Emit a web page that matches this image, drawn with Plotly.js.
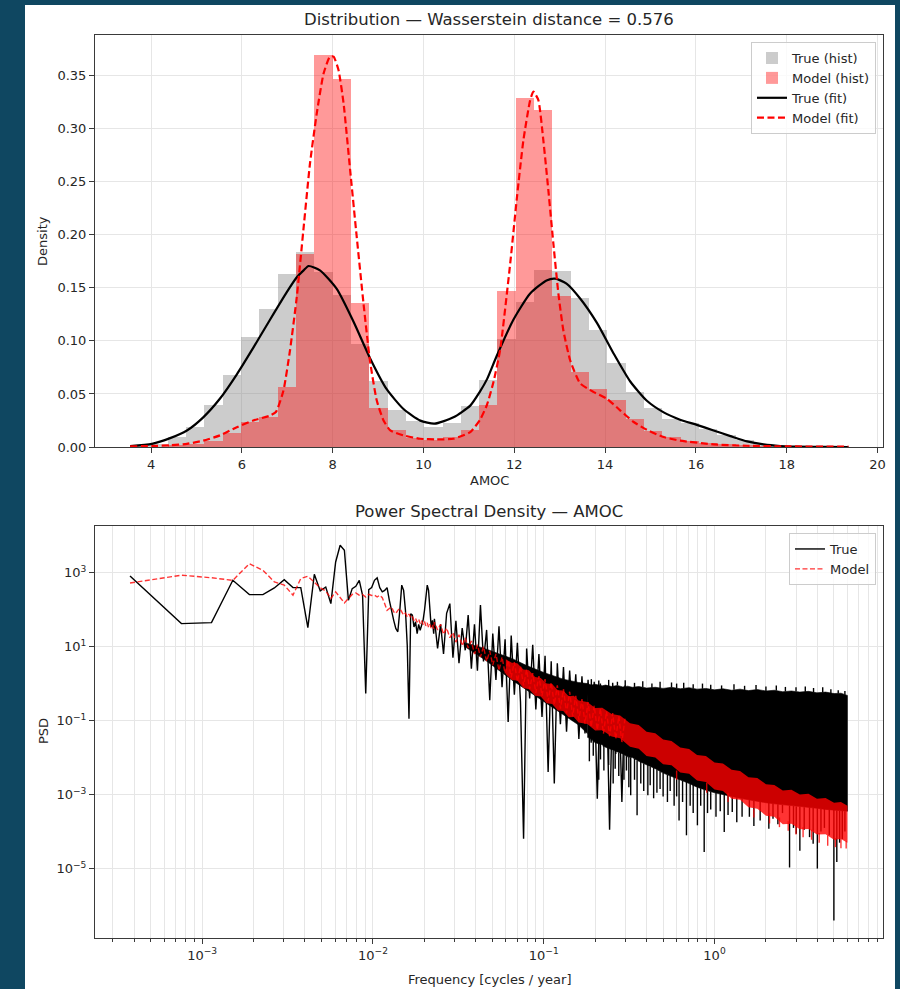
<!DOCTYPE html>
<html>
<head>
<meta charset="utf-8">
<script src="https://cdn.plot.ly/plotly-3.0.1.min.js"></script>
<style>
  html, body { margin: 0; padding: 0; background: #0f4761; }
  #fig { position: absolute; left: 25px; top: 5px; width: 870px; height: 984px; background: #ffffff; }
</style>
</head>
<body>
<div id="fig"></div>
<script>
// ---------------- Distribution of AMOC ----------------
const binStart = 3.56;      // left edge of first bin
const binWidth = 0.4035;    // shared bin width
const trueHist = [
  0.0015, 0.003, 0.009, 0.019, 0.0393, 0.0676, 0.1038, 0.1305, 0.1635, 0.184,
  0.1645, 0.143, 0.0975, 0.062, 0.035, 0.0243, 0.019, 0.0227, 0.039, 0.063,
  0.102, 0.137, 0.167, 0.166, 0.140, 0.110, 0.0795, 0.052, 0.0364, 0.0265,
  0.023, 0.017, 0.011, 0.0066, 0.003, 0.0015, 0.0008, 0.0003, 0.0, 0.0
];
const modelHist = [
  0.0002, 0.0005, 0.0015, 0.003, 0.006, 0.013, 0.024, 0.028, 0.057, 0.182,
  0.3695, 0.347, 0.136, 0.037, 0.0156, 0.0087, 0.0068, 0.0093, 0.0156, 0.040,
  0.147, 0.329, 0.318, 0.1425, 0.0707, 0.055, 0.044, 0.026, 0.0155, 0.0095,
  0.006, 0.004, 0.0025, 0.0015, 0.001, 0.0005, 0.0003, 0.0002, 0.0001, 0.0001
];
const trueFitX = [
  3.54, 4.02, 4.42, 4.79, 5.15, 5.52, 5.89, 6.25, 6.62, 6.99, 7.21, 7.36, 7.47,
  7.72, 8.09, 8.46, 8.82, 9.19, 9.56, 9.93, 10.24, 10.66, 11.03, 11.24, 11.4,
  11.61, 11.98, 12.35, 12.71, 12.9, 13.15, 13.45, 13.82, 14.18, 14.55, 14.92,
  15.29, 15.65, 16.02, 16.39, 16.76, 17.13, 17.49, 17.86, 18.23, 18.8, 19.36
];
const trueFitY = [
  0.0008, 0.003, 0.0084, 0.0156, 0.028, 0.0457, 0.0685, 0.0934, 0.12, 0.146, 0.160, 0.1665, 0.1706,
  0.1665, 0.149, 0.118, 0.084, 0.0545, 0.0358, 0.0249, 0.022, 0.028, 0.039, 0.052, 0.064,
  0.0856, 0.12, 0.1447, 0.157, 0.1587, 0.154, 0.140, 0.117, 0.0887, 0.062, 0.0436,
  0.0327, 0.0258, 0.0209, 0.0156, 0.0103, 0.0053, 0.0025, 0.001, 0.0003, 0.0001, 0.0
];
const modelFitX = [
  3.54, 4.02, 4.42, 4.79, 5.15, 5.52, 5.89, 6.25, 6.62, 6.75, 6.915, 7.06, 7.21,
  7.355, 7.5, 7.65, 7.8, 7.94, 8.02, 8.13, 8.24, 8.385, 8.53, 8.68, 8.82, 8.97,
  9.12, 9.27, 9.56, 9.93, 10.29, 10.66, 11.03, 11.25, 11.4, 11.54, 11.69, 11.91,
  12.06, 12.2, 12.35, 12.42, 12.53, 12.64, 12.75, 12.86, 12.97, 13.08, 13.23,
  13.45, 13.74, 14.04, 14.33, 14.63, 14.92, 15.29, 15.65, 16.39, 17.13, 18.0, 19.36
];
const modelFitY = [
  0.0006, 0.001, 0.0016, 0.003, 0.006, 0.011, 0.0187, 0.025, 0.0296, 0.033, 0.053, 0.091, 0.1415,
  0.2044, 0.267, 0.3145, 0.352, 0.368, 0.368, 0.355, 0.324, 0.261, 0.198, 0.135, 0.0818, 0.044,
  0.025, 0.0157, 0.011, 0.0078, 0.0072, 0.0078, 0.014, 0.026, 0.040, 0.061, 0.092, 0.173,
  0.236, 0.289, 0.327, 0.335, 0.327, 0.289, 0.242, 0.192, 0.145, 0.11, 0.0818,
  0.06, 0.052, 0.0456, 0.0346, 0.0236, 0.0162, 0.0094, 0.006, 0.0025, 0.0012, 0.0006, 0.0003
];

// ---------------- Power spectral density ----------------
// PSD values are stored as log10(PSD); frequencies in cycles / year.
const freqStep = 3.78e-4;   // spectral resolution of the periodogram
const trueLowLog = [
  2.909, 1.621, 1.648, 2.792, 2.405, 2.405, 2.585, 2.81, 2.594, 2.594,
  1.513, 2.954, 2.504, 2.61, 2.161, 3.287, 3.738, 3.603, 2.251, 2.567,
  2.63, 2.792, 2.386, -0.27, 2.54, 2.594, 2.792, 2.86, 2.594, 2.48,
  2.52, 2.594, 2.25, 1.94, 1.71, 1.49, 1.4, 1.98, 2.66, 2.52,
  1.98, 1.04, -0.95, 1.89, 1.85, 1.53, 1.67, 1.35, 1.6, 1.44,
  1.62, 1.71, 1.98, 2.25, 2.66, 2.52, 1.98, 1.53, 1.71, 1.35
];
const modelLowLog = [
  2.72, 2.93, 2.86, 2.79, 3.24, 3.06, 2.75, 2.66, 2.39, 2.84,
  2.9, 2.75, 2.59, 2.5, 2.3, 2.48, 2.34, 2.18, 2.3, 2.41,
  2.45, 2.39, 2.41, 2.34, 2.41, 2.38, 2.39, 2.34, 2.39, 2.32,
  2.16, 1.98, 2.03, 2.07, 1.94, 1.89, 1.98, 2.03, 1.94, 1.85,
  1.9, 1.8, 1.88, 1.78, 1.82, 1.7, 1.76, 1.66, 1.74, 1.62,
  1.7, 1.6, 1.68, 1.56, 1.64, 1.52, 1.6, 1.5, 1.58, 1.48
];
const midFreq = [
  0.0229, 0.0239, 0.0249, 0.0259, 0.0270, 0.0282, 0.0294, 0.0306, 0.0319, 0.0333,
  0.0347, 0.0361, 0.0377, 0.0393, 0.0409, 0.0426, 0.0444, 0.0463, 0.0483, 0.0503,
  0.0525, 0.0547, 0.0570, 0.0594, 0.0619, 0.0645, 0.0673, 0.0701, 0.0731, 0.0762,
  0.0794, 0.0827, 0.0862, 0.0899, 0.0937, 0.0977, 0.1018, 0.1061, 0.1106, 0.1153,
  0.1201, 0.1252, 0.1305, 0.1360, 0.1418, 0.1478, 0.1540, 0.1606, 0.1674, 0.1744,
  0.1818, 0.1895, 0.1975, 0.2059, 0.2146, 0.2237, 0.2331, 0.2430, 0.2533, 0.2640,
  0.2752, 0.2868, 0.2990
];
const trueMidLog = [
  1.75, 0.95, 1.6, 0.8, 1.9, 2.16, 0.7, 1.7, 0.55, 1.5,
  0.9, 1.85, 0.4, 1.6, 0.35, 2.12, 0.6, 1.45, -0.45, 1.35,
  0.1, 1.55, -0.1, 1.2, -1.04, 1.3, -0.3, 1.1, -0.5, -4.19,
  0.95, -0.4, 1.05, -0.7, 0.8, -0.9, 0.75, -2.39, 0.6, -2.7,
  0.55, -1.1, 0.45, -1.3, 0.35, -1.0, 0.25, -1.5, 0.2, -1.35,
  0.1, -1.6, 0.05, -3.11, 0.0, -1.7, -0.05, -3.95, 0.02, -1.9,
  -0.1, -3.2, -0.05
];
const modelMidLog = [
  1.66, 1.45, 1.6, 1.33, 1.5, 1.24, 1.38, 1.12, 1.32, 1.02,
  1.24, 0.96, 1.15, 0.8, 1.05, 0.72, 1.0, 0.6, 0.88, 0.5,
  0.8, 0.35, 0.72, 0.27, 0.63, 0.17, 0.58, 0.05, 0.47, -0.05,
  0.38, -0.15, 0.28, -0.25, 0.2, -0.33, 0.12, -0.47, 0.03, -0.57,
  -0.05, -0.68, -0.15, -0.8, -0.22, -0.88, -0.33, -0.98, -0.42, -1.08,
  -0.5, -1.17, -0.6, -1.25, -0.68, -1.35, -0.75, -1.42, -0.8, -1.5,
  -0.88, -1.58, -0.95
];
// densest part of the "True" spectrum between 0.035 and 0.18 cycles / year
const trueCoreFreq = [0.035, 0.045, 0.055, 0.065, 0.08, 0.1, 0.13, 0.16, 0.18];
const trueCoreHiLog = [1.1, 0.95, 0.8, 0.68, 0.48, 0.3, 0.12, 0.03, 0.0];
const trueCoreLoLog = [0.98, 0.65, 0.35, 0.1, -0.2, -0.5, -0.84, -1.12, -1.35];
// high-frequency part of the "True" spectrum: envelope of the dense band
const trueBandFreq = [
  0.18, 0.19, 0.2, 0.22, 0.23, 0.25, 0.27, 0.29, 0.31, 0.33, 0.36, 0.4,
  0.45, 0.5, 0.56, 0.63, 0.71, 0.79, 0.89, 1.0, 1.12, 1.26, 1.41, 1.58,
  1.78, 2.0, 2.24, 2.51, 2.82, 3.16, 3.55, 3.98, 4.47, 5.01, 5.5, 6.0
];
const trueBandHiLog = [
  0.0, -0.04, -0.02, -0.06, -0.04, -0.08, -0.05, -0.09, -0.07, -0.1, -0.08, -0.12,
  -0.1, -0.13, -0.1, -0.14, -0.11, -0.15, -0.13, -0.17, -0.14, -0.18, -0.15, -0.19,
  -0.16, -0.2, -0.18, -0.22, -0.2, -0.23, -0.21, -0.25, -0.23, -0.27, -0.26, -0.32
];
const trueBandLoLog = [
  -1.45, -1.5, -1.6, -1.65, -1.72, -1.78, -1.85, -1.9, -1.98, -2.0, -2.1, -2.2,
  -2.3, -2.42, -2.5, -2.6, -2.7, -2.8, -2.88, -2.95, -3.0, -3.05, -3.1, -3.15,
  -3.18, -3.22, -3.25, -3.28, -3.3, -3.33, -3.35, -3.37, -3.4, -3.42, -3.44, -3.45
];
// single-bin excursions of the "True" spectrum beyond the band (from -> to)
const trueSpikeFreq = [
  0.185, 0.195, 0.21, 0.215, 0.225, 0.24, 0.255, 0.262, 0.275, 0.295, 0.305, 0.315,
  0.323, 0.34, 0.352, 0.37, 0.385, 0.407, 0.42, 0.44, 0.46, 0.48, 0.5, 0.53,
  0.55, 0.58, 0.6, 0.62, 0.65, 0.685, 0.72, 0.75, 0.794, 0.83, 0.87, 0.91,
  0.95, 1.02, 1.08, 1.14, 1.2, 1.27, 1.35, 1.45, 1.6, 1.7, 1.85, 2.08,
  2.2, 2.35, 2.5, 2.75, 2.9, 3.01, 3.16, 3.35, 3.6, 3.78, 4.0, 4.2,
  4.4, 4.7, 5.0, 5.2, 5.4, 5.6, 5.8,
  0.19, 0.21, 0.24, 0.27, 0.3, 0.34, 0.38, 0.43, 0.48, 0.56, 0.6, 0.66,
  0.75, 0.85, 0.95, 1.1, 1.3, 1.5, 1.75, 2.0, 2.3, 2.6, 3.0, 3.4,
  3.8, 4.3, 4.8, 5.3, 5.8
];
const trueSpikeFromLog = [
  -1.47, -1.52, -1.6, -1.62, -1.68, -1.74, -1.8, -1.82, -1.86, -1.92, -1.96, -1.98,
  -1.99, -2.03, -2.08, -2.12, -2.16, -2.2, -2.24, -2.27, -2.32, -2.37, -2.42, -2.46,
  -2.48, -2.52, -2.55, -2.58, -2.62, -2.66, -2.7, -2.74, -2.8, -2.83, -2.86, -2.9,
  -2.92, -2.96, -2.98, -3.0, -3.03, -3.05, -3.07, -3.11, -3.15, -3.17, -3.19, -3.22,
  -3.24, -3.26, -3.28, -3.3, -3.31, -3.32, -3.33, -3.34, -3.35, -3.36, -3.37, -3.38,
  -3.39, -3.41, -3.42, -3.43, -3.44, -3.44, -3.45,
  -0.04, -0.04, -0.07, -0.05, -0.08, -0.09, -0.1, -0.11, -0.12, -0.1, -0.12, -0.13,
  -0.13, -0.14, -0.15, -0.15, -0.17, -0.17, -0.17, -0.2, -0.19, -0.21, -0.21, -0.22,
  -0.24, -0.24, -0.26, -0.27, -0.3
];
const trueSpikeToLog = [
  -2.1, -1.95, -2.6, -2.05, -2.35, -2.2, -2.7, -2.3, -2.5, -2.6, -2.35, -2.8,
  -3.02, -2.6, -3.56, -2.7, -2.9, -3.02, -2.75, -3.1, -2.95, -2.85, -3.05, -3.2,
  -2.9, -3.3, -3.05, -3.7, -3.2, -4.1, -3.3, -3.5, -3.83, -3.3, -4.55, -3.5,
  -3.4, -3.6, -3.45, -4.01, -3.55, -3.47, -3.75, -3.6, -3.6, -3.85, -3.7, -3.92,
  -3.65, -3.8, -3.5, -4.97, -3.9, -4.06, -4.52, -3.95, -4.15, -4.33, -5.0, -4.0,
  -3.9, -4.1, -6.4, -4.82, -4.3, -4.2, -4.0,
  0.12, 0.08, 0.1, 0.05, 0.09, 0.02, 0.06, 0.0, 0.05, 0.03, 0.0, 0.02,
  -0.02, 0.0, -0.03, -0.05, -0.02, -0.06, -0.04, -0.08, -0.05, -0.09, -0.1, -0.08,
  -0.12, -0.1, -0.15, -0.18, -0.2
];
// high-frequency part of the "Model" spectrum: envelope of the dense band
const modelBandFreq = [
  0.06, 0.065, 0.07, 0.076, 0.082, 0.089, 0.096, 0.104, 0.112, 0.121, 0.13, 0.14,
  0.15, 0.16, 0.18, 0.2, 0.22, 0.25, 0.28, 0.32, 0.36, 0.4, 0.45, 0.5, 0.56, 0.63,
  0.71, 0.79, 0.89, 1.0, 1.12, 1.26, 1.41, 1.58, 1.78, 2.0, 2.24, 2.51, 2.82, 3.16,
  3.55, 3.98, 4.47, 5.01, 5.5, 6.0
];
const modelBandHiLog = [
  0.66, 0.56, 0.55, 0.38, 0.36, 0.18, 0.15, 0.0, -0.01, -0.18, -0.19, -0.34,
  -0.33, -0.46, -0.5, -0.66, -0.65, -0.82, -0.86, -1.07, -1.12, -1.3, -1.34, -1.51, -1.55, -1.73,
  -1.77, -1.93, -1.96, -2.13, -2.16, -2.33, -2.36, -2.53, -2.55, -2.72, -2.74, -2.89, -2.87, -3.0,
  -2.98, -3.11, -3.09, -3.22, -3.2, -3.3
];
const modelBandLoLog = [
  0.25, 0.1, 0.08, -0.12, -0.15, -0.33, -0.35, -0.53, -0.55, -0.73, -0.74, -0.91,
  -0.9, -1.05, -1.09, -1.27, -1.26, -1.43, -1.48, -1.71, -1.76, -1.96, -2.0, -2.18, -2.21, -2.4,
  -2.44, -2.62, -2.66, -2.86, -2.9, -3.11, -3.14, -3.34, -3.38, -3.57, -3.6, -3.8, -3.79, -3.94,
  -3.93, -4.08, -4.07, -4.22, -4.2, -4.3
];
// single-bin excursions of the "Model" spectrum below its band
const modelSpikeFreq = [0.6, 0.9, 1.2, 1.7, 2.1, 2.4, 2.7, 3.0, 3.3, 3.7, 4.1, 4.6, 5.1, 5.5, 5.9];
const modelSpikeFromLog = [-2.35, -2.68, -2.95, -3.38, -3.5, -3.62, -3.72, -3.8, -3.88, -3.95, -4.04, -4.1, -4.18, -4.2, -4.26];
const modelSpikeToLog = [-2.6, -2.95, -3.2, -3.62, -3.78, -3.88, -3.98, -4.08, -4.15, -4.22, -4.3, -4.38, -4.42, -4.45, -4.46];

// ---------------- build traces ----------------
const pow10 = v => Math.pow(10, v);
const binCenters = trueHist.map((_, i) => binStart + (i + 0.5) * binWidth);
const lowFreq = trueLowLog.map((_, i) => (i + 1) * freqStep);

function band(freq, hi, lo) {
  return {
    x: freq.concat(freq.slice().reverse()),
    y: hi.map(pow10).concat(lo.map(pow10).reverse())
  };
}
function segments(freq, from, to) {
  const x = [], y = [];
  freq.forEach((f, i) => {
    x.push(f, f, null);
    y.push(pow10(from[i]), pow10(to[i]), null);
  });
  return { x: x, y: y };
}
const core = band(trueCoreFreq, trueCoreHiLog, trueCoreLoLog);
const tb = band(trueBandFreq, trueBandHiLog, trueBandLoLog);
const mb = band(modelBandFreq, modelBandHiLog, modelBandLoLog);
const ts = segments(trueSpikeFreq, trueSpikeFromLog, trueSpikeToLog);
const ms = segments(modelSpikeFreq, modelSpikeFromLog, modelSpikeToLog);

const MODEL_RED = 'rgba(255,0,0,0.8)';
const psd = (extra) => Object.assign({ type: 'scatter', mode: 'lines', xaxis: 'x2', yaxis: 'y2', showlegend: false }, extra);
const traces = [
  { type: 'bar', x: binCenters, y: trueHist, width: binWidth, name: 'True (hist)',
    marker: { color: 'rgba(128,128,128,0.4)', line: { width: 0 } }, xaxis: 'x', yaxis: 'y', legend: 'legend' },
  { type: 'bar', x: binCenters, y: modelHist, width: binWidth, name: 'Model (hist)',
    marker: { color: 'rgba(255,0,0,0.4)', line: { width: 0 } }, xaxis: 'x', yaxis: 'y', legend: 'legend' },
  { type: 'scatter', mode: 'lines', x: trueFitX, y: trueFitY, name: 'True (fit)',
    line: { color: '#000000', width: 2.2, shape: 'spline', smoothing: 0.6 }, xaxis: 'x', yaxis: 'y', legend: 'legend' },
  { type: 'scatter', mode: 'lines', x: modelFitX, y: modelFitY, name: 'Model (fit)',
    line: { color: '#ff0000', width: 2.2, dash: '7px,3.5px', shape: 'spline', smoothing: 0.5 }, xaxis: 'x', yaxis: 'y', legend: 'legend' },

  psd({ x: lowFreq.concat(midFreq), y: trueLowLog.concat(trueMidLog).map(pow10),
        name: 'True', showlegend: true, legend: 'legend2', line: { color: '#000000', width: 1.4 } }),
  psd({ x: core.x, y: core.y, fill: 'toself', fillcolor: '#000000', line: { color: '#000000', width: 0.6 } }),
  psd({ x: tb.x, y: tb.y, fill: 'toself', fillcolor: '#000000', line: { color: '#000000', width: 0.6 } }),
  psd({ x: ts.x, y: ts.y, connectgaps: false, line: { color: '#000000', width: 1.4 } }),
  psd({ x: mb.x, y: mb.y, fill: 'toself', fillcolor: MODEL_RED, line: { width: 0 } }),
  psd({ x: ms.x, y: ms.y, connectgaps: false, line: { color: MODEL_RED, width: 1.4 } }),
  psd({ x: lowFreq.concat(midFreq), y: modelLowLog.concat(modelMidLog).map(pow10),
        name: 'Model', showlegend: true, legend: 'legend2', line: { color: MODEL_RED, width: 1.4, dash: '5px,2.5px' } })
];

// ---------------- layout ----------------
const FONT = 'DejaVu Sans, Verdana, sans-serif';
const INK = '#262626';
const GRID = '#e6e6e6';
const SPINE = '#3a3a3a';
const axisBase = {
  showline: true, linecolor: SPINE, linewidth: 1, mirror: true,
  ticks: 'outside', ticklen: 5, tickwidth: 1, tickcolor: SPINE,
  showgrid: true, gridcolor: GRID, gridwidth: 1, zeroline: false,
  tickfont: { family: FONT, size: 13, color: INK }
};
const minorFreqTicks = [];
for (let d = -4; d <= 0; d++) {
  for (let m = 2; m <= 9; m++) {
    const v = m * Math.pow(10, d);
    if (v > 2.4e-4 && v < 9.6) minorFreqTicks.push(v);
  }
}
const sup = e => '10<sup>' + (e < 0 ? '\u2212' + (-e) : e) + '</sup>';

const legendBase = {
  xanchor: 'right', yanchor: 'top', bgcolor: 'rgba(255,255,255,0.8)',
  bordercolor: '#cccccc', borderwidth: 1, traceorder: 'normal',
  font: { family: FONT, size: 13, color: INK }, itemwidth: 30
};

const annot = (text, x, y, size, angle) => ({
  text: text, x: x, y: y, xref: 'paper', yref: 'paper', showarrow: false,
  xanchor: 'center', yanchor: 'middle', textangle: angle || 0,
  font: { family: FONT, size: size, color: INK }
});

const layout = {
  width: 870, height: 984,
  margin: { l: 70, r: 12, t: 30, b: 51 },
  paper_bgcolor: '#ffffff', plot_bgcolor: '#ffffff',
  barmode: 'overlay', bargap: 0,
  showlegend: true,
  xaxis: Object.assign({}, axisBase, {
    domain: [0, 1], anchor: 'y', range: [2.766, 20.12],
    tickvals: [4, 6, 8, 10, 12, 14, 16, 18, 20]
  }),
  yaxis: Object.assign({}, axisBase, {
    domain: [0.5437, 1], anchor: 'x', range: [0, 0.3883],
    tickvals: [0, 0.05, 0.1, 0.15, 0.2, 0.25, 0.3, 0.35], tickformat: '.2f'
  }),
  xaxis2: Object.assign({}, axisBase, {
    type: 'log', domain: [0, 1], anchor: 'y2', range: [-3.6275, 0.9865],
    tickmode: 'array', tickvals: [1e-3, 1e-2, 1e-1, 1], ticktext: [sup(-3), sup(-2), sup(-1), sup(0)],
    minor: { tickmode: 'array', tickvals: minorFreqTicks, ticks: 'outside', ticklen: 3,
             tickcolor: SPINE, showgrid: true, gridcolor: GRID, gridwidth: 1 }
  }),
  yaxis2: Object.assign({}, axisBase, {
    type: 'log', domain: [0, 0.4563], anchor: 'x2', range: [-6.876, 4.26],
    tickmode: 'array', tickvals: [1e-5, 1e-3, 1e-1, 1e1, 1e3],
    ticktext: [sup(-5), sup(-3), sup(-1), sup(1), sup(3)]
  }),
  legend: Object.assign({}, legendBase, { x: 0.9911, y: 0.9922 }),
  legend2: Object.assign({}, legendBase, { x: 0.9911, y: 0.4485 }),
  annotations: [
    annot('Distribution \u2014 Wasserstein distance = 0.576', 0.5, 1.0177, 16.5),
    annot('AMOC', 0.5, 0.5061, 13),
    annot('Density', -0.066, 0.7719, 13, -90),
    annot('Power Spectral Density \u2014 AMOC', 0.5, 0.4718, 16.5),
    annot('Frequency [cycles / year]', 0.5, -0.0465, 13),
    annot('PSD', -0.066, 0.2292, 13, -90)
  ]
};

Plotly.newPlot('fig', traces, layout, { staticPlot: true, displayModeBar: false });
</script>
</body>
</html>
